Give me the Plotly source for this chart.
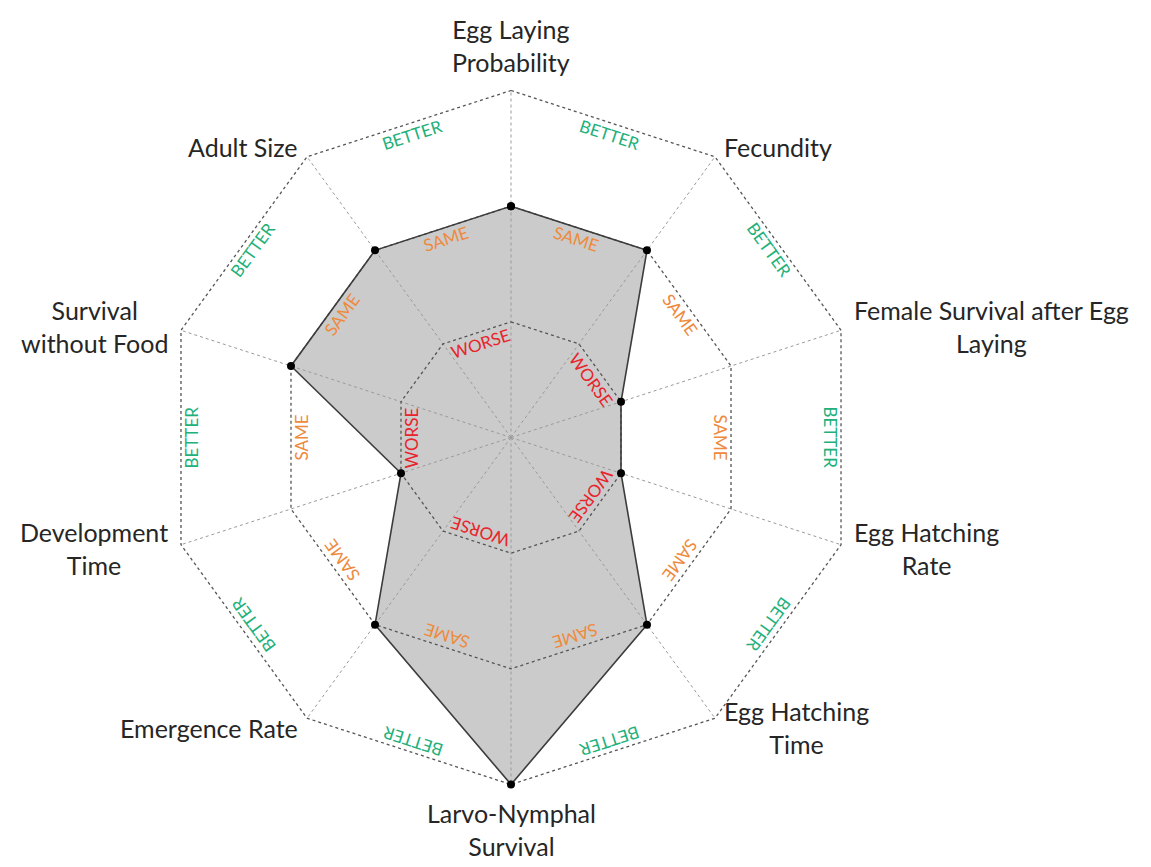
import numpy as np
import plotly.graph_objects as go

# ---------------- data ----------------
categories = [
    "Egg Laying<br>Probability",
    "Fecundity",
    "Female Survival after Egg<br>Laying",
    "Egg Hatching<br>Rate",
    "Egg Hatching<br>Time",
    "Larvo-Nymphal<br>Survival",
    "Emergence Rate",
    "Development<br>Time",
    "Survival<br>without Food",
    "Adult Size",
]
values = [2, 2, 1, 1, 2, 3, 2, 1, 2, 2]

ring_levels = [1, 2, 3]
ring_labels = ["WORSE", "SAME", "BETTER"]
# edges (from vertex i to vertex i+1, clockwise) on which each ring label is written
ring_label_edges = [
    [1, 3, 5, 7, 9],
    [0, 1, 2, 3, 4, 5, 6, 7, 8, 9],
    [0, 1, 2, 3, 4, 5, 6, 7, 8, 9],
]

# ---------------- style ----------------
W, H = 1151, 867
CX, CY = 511, 437.5          # centre of the web in pixels
RMAX_PX = 347                # outer ring radius in pixels
UNIT = RMAX_PX / max(ring_levels)
ring_colors = ["#e8242c", "#ee8a3c", "#22b07a"]
FONT = "Lato, 'Open Sans', sans-serif"

n = len(categories)
theta = np.deg2rad(np.arange(n) * 360.0 / n)   # clockwise from top


def xy(r, th):
    return r * np.sin(th), r * np.cos(th)


fig = go.Figure()

# data polygon fill (under the grid)
vx, vy = xy(np.array(values, float), theta)
fig.add_trace(go.Scatter(
    x=list(vx) + [vx[0]], y=list(vy) + [vy[0]],
    mode="lines", fill="toself", fillcolor="#cbcbcb",
    line=dict(width=0), hoverinfo="skip", showlegend=False))

# spokes
sx, sy = [], []
for th in theta:
    ex, ey = xy(max(ring_levels), th)
    sx += [0, ex, None]
    sy += [0, ey, None]
fig.add_trace(go.Scatter(x=sx, y=sy, mode="lines",
                         line=dict(color="#9a9a9a", width=1, dash="dot"),
                         hoverinfo="skip", showlegend=False))

# rings
for lvl in ring_levels:
    rx, ry = xy(np.full(n + 1, lvl, float), np.append(theta, theta[0]))
    fig.add_trace(go.Scatter(x=rx, y=ry, mode="lines",
                             line=dict(color="#555555", width=1.3, dash="dot"),
                             hoverinfo="skip", showlegend=False))

# data outline + markers
fig.add_trace(go.Scatter(
    x=list(vx) + [vx[0]], y=list(vy) + [vy[0]],
    mode="lines+markers",
    line=dict(color="#3c3c3c", width=1.6),
    marker=dict(color="black", size=8),
    hoverinfo="skip", showlegend=False))

annotations = []
# ring labels written along the ring edges
inset = 11 / UNIT
step = 2 * np.pi / n
for lvl, lab, col, edges in zip(ring_levels, ring_labels, ring_colors, ring_label_edges):
    for e in edges:
        phi = theta[e] + step / 2
        d = lvl * np.cos(step / 2) - inset
        px, py = xy(d, phi)
        annotations.append(dict(
            x=px, y=py, xref="x", yref="y", text=lab, showarrow=False,
            textangle=float(np.rad2deg(phi)) % 360,
            font=dict(family=FONT, size=17, color=col),
            xanchor="center", yanchor="middle"))

# category labels
lab_r = max(ring_levels) + 0.1
for cat, th in zip(categories, theta):
    px, py = xy(lab_r, th)
    s, c = np.sin(th), np.cos(th)
    xa = "left" if s > 0.1 else ("right" if s < -0.1 else "center")
    ya = "bottom" if c > 0.9 else ("top" if c < -0.9 else "middle")
    annotations.append(dict(
        x=px, y=py, xref="x", yref="y", text=cat, showarrow=False,
        align="center", xanchor=xa, yanchor=ya,
        font=dict(family=FONT, size=25, color="#262626")))

fig.update_layout(
    width=W, height=H,
    margin=dict(l=0, r=0, t=0, b=0),
    paper_bgcolor="white", plot_bgcolor="white",
    xaxis=dict(range=[-CX / UNIT, (W - CX) / UNIT], visible=False, fixedrange=True),
    yaxis=dict(range=[-(H - CY) / UNIT, CY / UNIT], visible=False, fixedrange=True),
    annotations=annotations,
    showlegend=False,
)

fig.write_html("out.html", config={"displayModeBar": False},
               post_script="document.body.style.margin='0';document.body.style.overflow='hidden';")
